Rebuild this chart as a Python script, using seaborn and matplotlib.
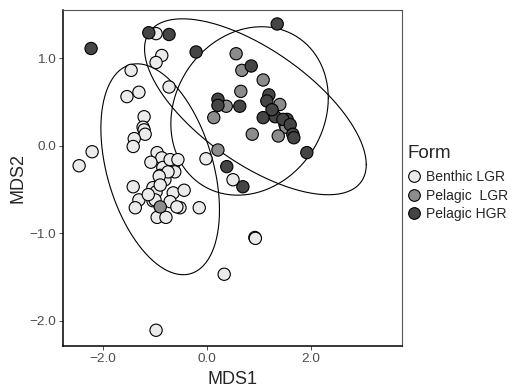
import numpy as np
import pandas as pd
import matplotlib
matplotlib.use("Agg")
import matplotlib.pyplot as plt
import seaborn as sns

# NMDS scores
benthic_x = [-2.46, -2.21, -1.46, -1.54, -1.31, -0.98, -0.87, -0.98, -0.73, -1.21,
             -1.23, -1.21, -1.19, -1.40, -1.42, -0.96, -0.87, -1.08, -0.65, -0.62,
             -0.85, -0.90, -0.81, -0.75, -0.92, -1.42, -1.04, -0.98, -0.65, -0.44,
             -1.31, -1.38, -1.04, -0.71, -0.52, -0.96, -0.79, -0.15, -0.02, 0.50,
             0.92, 0.93, 0.33, -0.98, -1.00, -0.58, -0.71, -0.56, -0.90, -1.13]
benthic_y = [-0.23, -0.07, 0.86, 0.56, 0.61, 1.28, 1.03, 0.95, 0.67, 0.33,
             0.21, 0.18, 0.13, 0.08, -0.01, -0.08, -0.14, -0.19, -0.22, -0.30,
             -0.25, -0.34, -0.39, -0.30, -0.35, -0.47, -0.48, -0.53, -0.54, -0.51,
             -0.62, -0.71, -0.63, -0.64, -0.71, -0.82, -0.82, -0.71, -0.15, -0.39,
             -1.05, -1.06, -1.47, -2.11, -0.62, -0.70, -0.16, -0.16, -0.45, -0.56]

pel_lgr_x = [0.56, 0.67, 1.08, 0.65, 0.37, 0.13, 1.40, 1.50, 1.52, 1.37, 0.87, 0.21, -0.90]
pel_lgr_y = [1.05, 0.86, 0.75, 0.62, 0.45, 0.32, 0.47, 0.24, 0.21, 0.11, 0.13, -0.05, -0.70]

pel_hgr_x = [-2.23, -1.12, -0.73, -0.21, 0.85, 1.19, 1.15, 0.21, 0.21, 0.63, 1.08,
             1.31, 1.25, 1.54, 1.46, 1.60, 1.65, 1.67, 1.92, 1.35, 0.38, 0.69]
pel_hgr_y = [1.11, 1.29, 1.27, 1.07, 0.91, 0.58, 0.51, 0.53, 0.46, 0.45, 0.32,
             0.33, 0.41, 0.30, 0.30, 0.24, 0.13, 0.09, -0.08, 1.39, -0.24, -0.47]

forms = ["Benthic LGR", "Pelagic  LGR", "Pelagic HGR"]
form_colors = ["#EBEBEB", "#8C8C8C", "#454545"]

df = pd.concat([
    pd.DataFrame({"MDS1": benthic_x, "MDS2": benthic_y, "Form": forms[0]}),
    pd.DataFrame({"MDS1": pel_lgr_x, "MDS2": pel_lgr_y, "Form": forms[1]}),
    pd.DataFrame({"MDS1": pel_hgr_x, "MDS2": pel_hgr_y, "Form": forms[2]}),
], ignore_index=True)


def cov_trob(x, nu=5, maxit=25, tol=0.01):
    # robust multivariate t estimate, like MASS::cov.trob
    n, p = x.shape
    loc = x.mean(axis=0)
    w = np.ones(n)
    for _ in range(maxit):
        w0 = w
        X = x - loc
        S = (X * (w / w.sum())[:, None]).T @ X
        Q = np.einsum("ij,jk,ik->i", X, np.linalg.inv(S), X)
        w = (nu + p) / (nu + Q)
        loc = (w[:, None] * x).sum(axis=0) / w.sum()
        if np.all(np.abs(w - w0) < tol):
            break
    X = x - loc
    cov = (X * w[:, None]).T @ X / n
    return loc, cov


def ellipse_path(x, level=0.95, segments=200):
    # same construction as ggplot2 stat_ellipse(type = "t")
    n = len(x)
    loc, cov = cov_trob(x)
    d = n - 1
    fq = (d / 2) * ((1 - level) ** (-2 / d) - 1)  # F quantile for dfn = 2
    radius = np.sqrt(2 * fq)
    chol = np.linalg.cholesky(cov).T
    ang = np.linspace(0, 2 * np.pi, segments + 1)
    circle = np.column_stack([np.cos(ang), np.sin(ang)])
    return loc + radius * circle @ chol


sns.set_style("white")
plt.rcParams["font.family"] = ["Liberation Sans", "DejaVu Sans"]

fig = plt.figure(figsize=(5.22, 3.9), dpi=100)
ax = fig.add_axes([0.1207, 0.1128, 0.6494, 0.8616])

sns.scatterplot(data=df, x="MDS1", y="MDS2", hue="Form", hue_order=forms,
                palette=form_colors, s=78, edgecolor="black", linewidth=0.8,
                alpha=1, ax=ax, zorder=3)

for f in forms:
    sub = df[df["Form"] == f][["MDS1", "MDS2"]].to_numpy()
    e = ellipse_path(sub)
    ax.plot(e[:, 0], e[:, 1], color="black", lw=0.8, zorder=2)

ax.set_xlim(-2.77, 3.75)
ax.set_ylim(-2.29, 1.55)
ax.set_xticks([-2, 0, 2])
ax.set_yticks([-2, -1, 0, 1])
ax.set_xticklabels(["\u22122.0", "0.0", "2.0"])
ax.set_yticklabels(["\u22122.0", "\u22121.0", "0.0", "1.0"])
ax.tick_params(axis="both", length=3, width=0.6, color="#333333",
               labelsize=9.7, labelcolor="#4D4D4D", pad=2, left=True, bottom=True)

for side in ["top", "right"]:
    ax.spines[side].set_color("#555555")
    ax.spines[side].set_linewidth(0.8)
for side in ["left", "bottom"]:
    ax.spines[side].set_color("black")
    ax.spines[side].set_linewidth(1.1)

ax.set_xlabel("MDS1", fontsize=13, labelpad=4)
ax.set_ylabel("MDS2", fontsize=13, labelpad=2)

leg = ax.legend(title="Form", loc="center left", bbox_to_anchor=(1.0, 0.485),
                frameon=False, fontsize=10, title_fontsize=13.5,
                handlelength=1.0, handletextpad=0.35, labelspacing=0.33,
                borderaxespad=0.0, markerscale=0.95)
leg._legend_box.align = "left"
leg._legend_box.sep = 6

fig.savefig("out.png", dpi=100)
